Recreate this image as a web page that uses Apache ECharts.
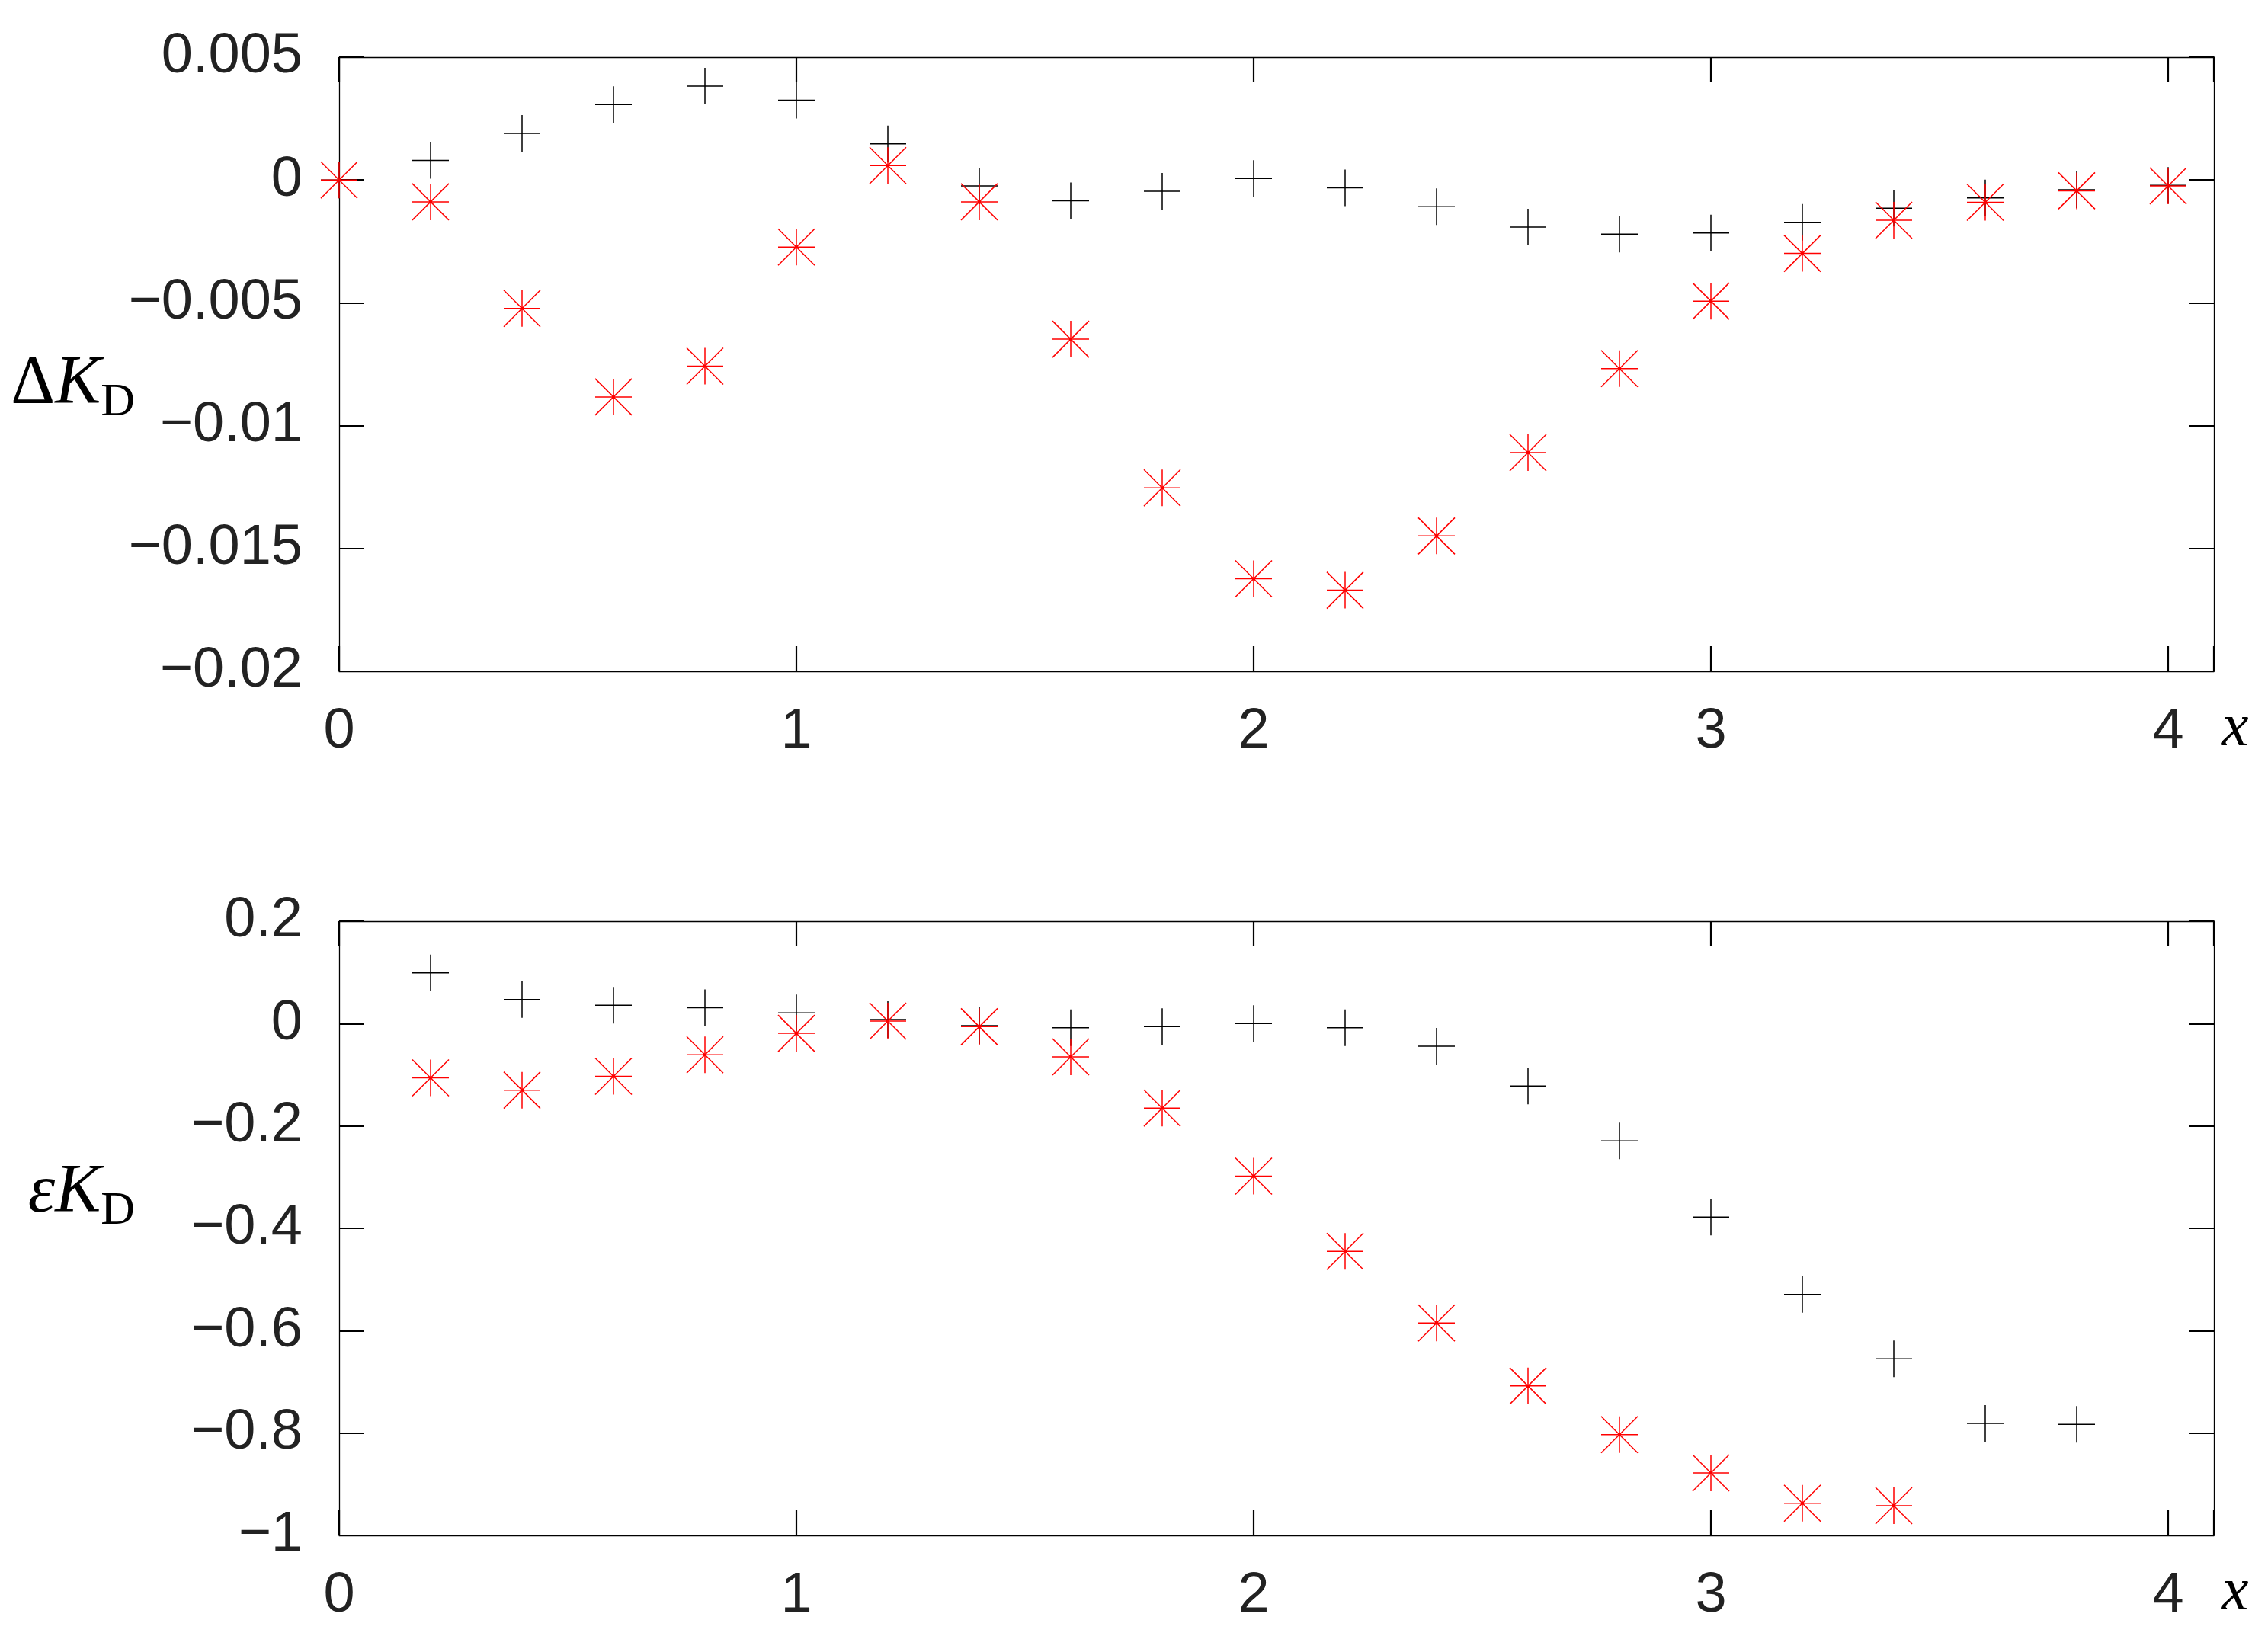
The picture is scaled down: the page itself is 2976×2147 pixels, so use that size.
<!DOCTYPE html>
<html>
<head>
<meta charset="utf-8">
<script src="https://cdn.jsdelivr.net/npm/echarts@6/dist/echarts.min.js"></script>
<style>
html,body{margin:0;padding:0;background:#fff;}
#c{width:2976px;height:2147px;}
</style>
</head>
<body>
<div id="c"></div>
<script>
// ---------- data ----------
const xTop = [0, 0.2, 0.4, 0.6, 0.8, 1.0, 1.2, 1.4, 1.6, 1.8, 2.0, 2.2, 2.4, 2.6, 2.8, 3.0, 3.2, 3.4, 3.6, 3.8, 4.0];
const deltaPlus = [0, 0.0008, 0.0019, 0.00307, 0.00382, 0.00325, 0.00147, -0.00024, -0.00085, -0.00046, 0.00006, -0.00032, -0.00109, -0.00192, -0.0022, -0.00216, -0.00172, -0.00115, -0.00073, -0.0004, -0.00022];
const deltaStar = [0, -0.00089, -0.00523, -0.00883, -0.00758, -0.00273, 0.00059, -0.00089, -0.00648, -0.01253, -0.01623, -0.0167, -0.01449, -0.0111, -0.00768, -0.00493, -0.00299, -0.00164, -0.00091, -0.00044, -0.00024];

const xBotPlus = [0.2, 0.4, 0.6, 0.8, 1.0, 1.2, 1.4, 1.6, 1.8, 2.0, 2.2, 2.4, 2.6, 2.8, 3.0, 3.2, 3.4, 3.6, 3.8];
const epsPlus = [0.099, 0.047, 0.036, 0.031, 0.021, 0.008, -0.004, -0.008, -0.006, 0.0, -0.008, -0.044, -0.122, -0.229, -0.378, -0.529, -0.655, -0.781, -0.783];
const xBotStar = [0.2, 0.4, 0.6, 0.8, 1.0, 1.2, 1.4, 1.6, 1.8, 2.0, 2.2, 2.4, 2.6, 2.8, 3.0, 3.2, 3.4];
const epsStar = [-0.106, -0.130, -0.103, -0.061, -0.019, 0.005, -0.006, -0.065, -0.165, -0.298, -0.445, -0.585, -0.708, -0.803, -0.878, -0.937, -0.942];

const xTicks = [0, 1, 2, 3, 4];
const yTopTicks = [0.005, 0, -0.005, -0.01, -0.015, -0.02];
const yBotTicks = [0.2, 0, -0.2, -0.4, -0.6, -0.8, -1];

// ---------- helpers ----------
const pair = (xs, ys) => xs.map((x, i) => [x, ys[i]]);
const PLUS = 'path://M0,-24L0,24M-24,0L24,0';
const STAR = 'path://M0,-24L0,24M-24,0L24,0M-24,-24L24,24M-24,24L24,-24';
const LABEL_FONT = 'Liberation Sans, Arial, sans-serif';
const SERIF = 'Liberation Serif, Times New Roman, serif';
const fmtY = v => {
  const r = Math.round(v * 1e6) / 1e6;
  return r === 0 ? '0' : String(r).replace('-', '\u2212');
};
const fmtX = v => (Math.abs(v - Math.round(v)) < 1e-9 && xTicks.indexOf(Math.round(v)) >= 0) ? String(Math.round(v)) : '';

const axisLine = {show: true, onZero: false, lineStyle: {color: '#000', width: 1.3}};
const axisTick = {show: true, inside: true, length: 33, lineStyle: {color: '#000', width: 2.2}};

function xAx(gi, pos, name, withLabel) {
  return {
    type: 'value', gridIndex: gi, position: pos, min: 0, max: 4.1, interval: 1,
    axisLine, axisTick, splitLine: {show: false},
    axisLabel: {show: withLabel, margin: 43, formatter: fmtX, color: '#222', fontFamily: LABEL_FONT, fontSize: 74},
    name: name ? '{a|' + name + '}' : '', nameLocation: 'end', nameGap: 10,
    nameTextStyle: {
      rich: {a: {fontFamily: SERIF, fontStyle: 'italic', fontSize: 80, color: '#000', padding: [152, 0, 0, 0]}}
    }
  };
}
function yAx(gi, pos, mn, mx, itv, withLabel, name, padTop, padBot) {
  return {
    type: 'value', gridIndex: gi, position: pos, min: mn, max: mx, interval: itv,
    axisLine, axisTick, splitLine: {show: false},
    axisLabel: {show: withLabel, margin: 48, formatter: fmtY, color: '#222', fontFamily: LABEL_FONT, fontSize: 74},
    name: name, nameLocation: 'middle', nameRotate: 0, nameGap: 268, nameMoveOverlap: false,
    nameTextStyle: {
      align: 'right',
      padding: [padTop, 0, padBot, 0],
      rich: {
        g: {fontFamily: SERIF, fontSize: 90, color: '#000', verticalAlign: 'bottom', padding: [0, 0, 9, 0]},
        e: {fontFamily: SERIF, fontStyle: 'italic', fontSize: 90, color: '#000', verticalAlign: 'bottom', padding: [0, 0, 9, 0]},
        k: {fontFamily: SERIF, fontStyle: 'italic', fontSize: 90, color: '#000', verticalAlign: 'bottom', padding: [0, 0, 9, 0]},
        s: {fontFamily: SERIF, fontSize: 62, color: '#000', verticalAlign: 'bottom'}
      }
    }
  };
}
function sc(xi, yi, data, symbol, color) {
  return {
    type: 'scatter', xAxisIndex: xi, yAxisIndex: yi, data: data,
    symbol: symbol, symbolSize: 48, silent: true,
    itemStyle: {color: 'rgba(0,0,0,0)', borderColor: color, borderWidth: 1.5, opacity: 1},
    emphasis: {disabled: true}
  };
}

const chart = echarts.init(document.getElementById('c'), null, {renderer: 'canvas'});
chart.setOption({
  backgroundColor: '#fff',
  animation: false,
  grid: [
    {left: 445, top: 75, width: 2460, height: 806},
    {left: 445, top: 1209, width: 2460, height: 806}
  ],
  xAxis: [
    xAx(0, 'bottom', 'x', true),
    xAx(0, 'top', '', false),
    xAx(1, 'bottom', 'x', true),
    xAx(1, 'top', '', false)
  ],
  yAxis: [
    yAx(0, 'left', -0.02, 0.005, 0.005, true, '{g|\u0394}{k|K}{s|D}', 64, 0),
    yAx(0, 'right', -0.02, 0.005, 0.005, false, '', 0, 0),
    yAx(1, 'left', -1, 0.2, 0.2, true, '{e|\u03B5}{k|K}{s|D}', 0, 82),
    yAx(1, 'right', -1, 0.2, 0.2, false, '', 0, 0)
  ],
  series: [
    sc(0, 0, pair(xTop, deltaPlus), PLUS, '#000'),
    sc(0, 0, pair(xTop, deltaStar), STAR, '#ff0000'),
    sc(2, 2, pair(xBotPlus, epsPlus), PLUS, '#000'),
    sc(2, 2, pair(xBotStar, epsStar), STAR, '#ff0000')
  ]
});
</script>
</body>
</html>
